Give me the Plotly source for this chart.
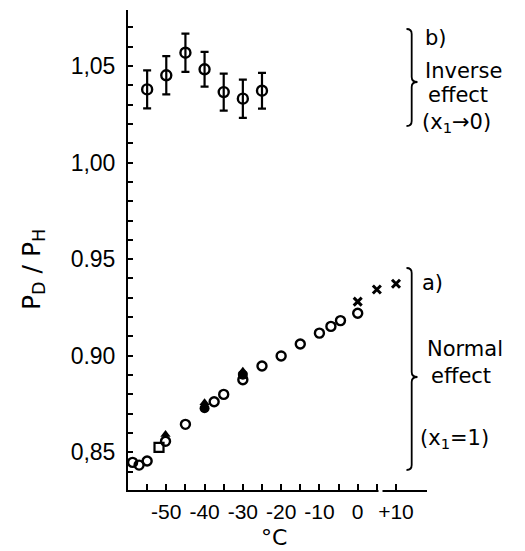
import plotly.graph_objects as go

# ---------------- data ----------------
# b) inverse effect (x1 -> 0), with error bars
inv_T = [-55, -50, -45, -40, -35, -30, -25]
inv_R = [1.0379, 1.0452, 1.0569, 1.0483, 1.0365, 1.0331, 1.0372]
inv_err = [0.0098, 0.0099, 0.0099, 0.0090, 0.0096, 0.0099, 0.0093]

# a) normal effect (x1 = 1)
circ_T = [-58.8, -57.1, -55.0, -50.2, -45.0, -37.5, -35.0, -30.0, -25.0, -20.0, -15.0, -10.0, -7.0, -4.5, 0.0]
circ_R = [0.8448, 0.8434, 0.8455, 0.8557, 0.8645, 0.8762, 0.8800, 0.8876, 0.8947, 0.8999, 0.9061, 0.9117, 0.9152, 0.9182, 0.9220]

fcirc_T = [-40.0, -30.0]
fcirc_R = [0.8728, 0.8902]

ftri_T = [-50.2, -40.0, -30.0]
ftri_R = [0.8592, 0.8757, 0.8920]

sq_T = [-51.9]
sq_R = [0.8526]

cross_T = [0.0, 5.0, 10.0]
cross_R = [0.9280, 0.9343, 0.9373]

# ticks
x_tickvals = [-55, -50, -45, -40, -35, -30, -25, -20, -15, -10, -5, 0, 5, 10]
x_ticktext = ["", "-50", "", "-40", "", "-30", "", "-20", "", "-10", "", "0", "", "+10"]
y_tickvals = [0.84, 0.85, 0.86, 0.87, 0.88, 0.89, 0.90, 0.91, 0.92, 0.93, 0.94, 0.95,
              0.96, 0.97, 0.98, 0.99, 1.00, 1.01, 1.02, 1.03, 1.04, 1.05, 1.06, 1.07]
y_ticktext = ["", "0,85", "", "", "", "", "0.90", "", "", "", "", "0.95",
              "", "", "", "", "1,00", "", "", "", "", "1,05", "", ""]

# ---------------- layout geometry (pixels, in the page's frame) ----------------
OFF = 8                      # default page body margin
W, H = 525 - OFF, 551 - OFF
PL, PR, PT, PB = 128, 427, 10, 490   # plot area in page pixels


def px(x):
    return (x - PL) / (PR - PL)


def py(y):
    return (PB - y) / (PB - PT)


INK = "black"
YTICKFONT = dict(family="Liberation Sans Narrow, Liberation Sans, Arial, sans-serif", size=23, color=INK)
XTICKFONT = dict(family="Liberation Sans Narrow, Liberation Sans, Arial, sans-serif", size=21, color=INK)
TXTFONT = dict(family="DejaVu Sans, sans-serif", size=21, color=INK)

fig = go.Figure()

fig.add_trace(go.Scatter(
    x=inv_T, y=inv_R, mode="markers",
    marker=dict(symbol="circle-open", size=10, color=INK, line=dict(width=2.4, color=INK)),
    error_y=dict(type="data", array=inv_err, visible=True, color=INK, thickness=2.2, width=4),
    showlegend=False))

fig.add_trace(go.Scatter(
    x=circ_T, y=circ_R, mode="markers",
    marker=dict(symbol="circle-open", size=9, color=INK, line=dict(width=2.4, color=INK)),
    showlegend=False))

fig.add_trace(go.Scatter(
    x=fcirc_T, y=fcirc_R, mode="markers",
    marker=dict(symbol="circle", size=10, color=INK, line=dict(width=0)),
    showlegend=False))

fig.add_trace(go.Scatter(
    x=ftri_T, y=ftri_R, mode="markers",
    marker=dict(symbol="triangle-up", size=9, color=INK, line=dict(width=0)),
    showlegend=False))

fig.add_trace(go.Scatter(
    x=sq_T, y=sq_R, mode="markers",
    marker=dict(symbol="square-open", size=9, color=INK, line=dict(width=2.2, color=INK)),
    showlegend=False))

fig.add_trace(go.Scatter(
    x=cross_T, y=cross_R, mode="markers",
    marker=dict(symbol="x-thin-open", size=8, color=INK, line=dict(width=3, color=INK)),
    showlegend=False))


def brace(x_line, x_end, x_tip, y_top, y_tip, y_bot, d=5):
    pts = []
    pts.append("M %.4f %.4f" % (px(x_end), py(y_top)))
    pts.append("Q %.4f %.4f %.4f %.4f" % (px(x_line), py(y_top), px(x_line), py(y_top + d)))
    pts.append("L %.4f %.4f" % (px(x_line), py(y_tip - d)))
    pts.append("Q %.4f %.4f %.4f %.4f" % (px(x_line), py(y_tip), px(x_tip), py(y_tip)))
    pts.append("Q %.4f %.4f %.4f %.4f" % (px(x_line), py(y_tip), px(x_line), py(y_tip + d)))
    pts.append("L %.4f %.4f" % (px(x_line), py(y_bot - d)))
    pts.append("Q %.4f %.4f %.4f %.4f" % (px(x_line), py(y_bot), px(x_end), py(y_bot)))
    return " ".join(pts)


shapes = [
    dict(type="path", xref="paper", yref="paper",
         path=brace(411.7, 406.5, 417.5, 29, 82, 126), line=dict(color=INK, width=1.8)),
    dict(type="path", xref="paper", yref="paper",
         path=brace(411.7, 406.5, 417.5, 268, 377, 470), line=dict(color=INK, width=1.8)),
    # small break in the x axis line
    dict(type="rect", xref="paper", yref="paper",
         x0=px(378.5), x1=px(382.5), y0=py(494), y1=py(486),
         fillcolor="white", line=dict(width=0), layer="above"),
]

annotations = []


def txt(text, x, y, anchor="left", font=TXTFONT, angle=0):
    annotations.append(dict(text=text, x=px(x), y=py(y), xref="paper", yref="paper",
                            xanchor=anchor, yanchor="middle", showarrow=False,
                            font=font, textangle=angle, borderpad=0))


txt("b)", 424, 38)
txt("Inverse", 424, 71)
txt("effect", 427, 95)
txt("(x<sub>1</sub>→0)", 421, 123)
txt("a)", 421, 283)
txt("Normal", 426, 349)
txt("effect", 430, 376)
txt("(x<sub>1</sub>=1)", 419, 439)
txt("°C", 274, 537, anchor="center", font=dict(family="DejaVu Sans, sans-serif", size=22, color=INK))
txt("P<sub>D</sub> / P<sub>H</sub>", 33, 270, anchor="center",
    font=dict(family="DejaVu Sans, sans-serif", size=25, color=INK), angle=-90)

fig.update_layout(
    template="none",
    width=W, height=H,
    margin=dict(l=PL - OFF, r=525 - PR, t=PT - OFF, b=551 - PB, pad=0, autoexpand=False),
    paper_bgcolor="white", plot_bgcolor="white",
    shapes=shapes, annotations=annotations,
    xaxis=dict(range=[-60.0, 18.1], showgrid=False, zeroline=False, automargin=False,
               showline=True, linecolor=INK, linewidth=2,
               ticks="inside", ticklen=6, tickwidth=1.6, tickcolor=INK,
               tickvals=x_tickvals, ticktext=x_ticktext, tickfont=XTICKFONT,
               ticklabelstandoff=2, fixedrange=True),
    yaxis=dict(range=[0.8305, 1.079], showgrid=False, zeroline=False, automargin=False,
               showline=True, linecolor=INK, linewidth=2,
               ticks="inside", ticklen=5, tickwidth=1.6, tickcolor=INK,
               tickvals=y_tickvals, ticktext=y_ticktext, tickfont=YTICKFONT,
               ticklabelstandoff=6, fixedrange=True),
)

fig.write_html("out.html")
